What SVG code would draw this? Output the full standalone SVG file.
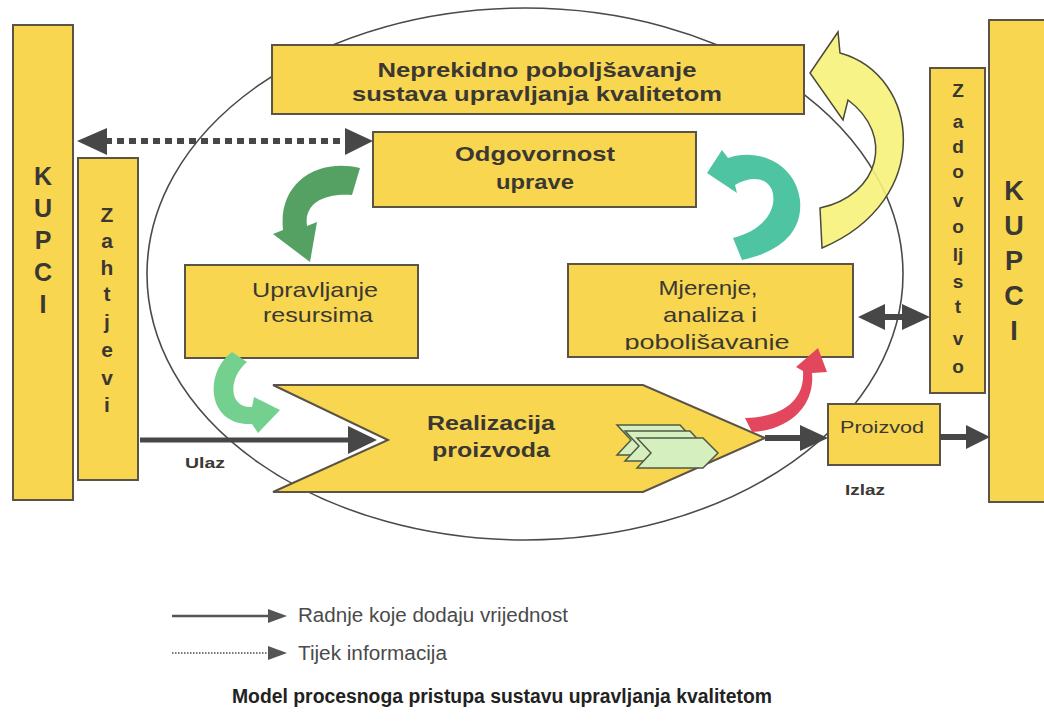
<svg xmlns="http://www.w3.org/2000/svg" width="1044" height="724" viewBox="0 0 1044 724">
<defs>
<style>
.box{fill:#f8d650;stroke:#5b5345;stroke-width:2}
.bt{font-family:"Liberation Sans",Arial,sans-serif;font-weight:bold;fill:#3b3833;text-anchor:middle}
.rt{font-family:"Liberation Sans",Arial,sans-serif;fill:#3b3833;text-anchor:middle}
.lt{font-family:"Liberation Sans",Arial,sans-serif;fill:#4a4a4a;font-size:20px}
.dk{fill:#474747}
.ln{stroke:#474747;fill:none}
</style>
<clipPath id="clipM"><rect x="570" y="266" width="282" height="84"/></clipPath>
</defs>
<rect width="1044" height="724" fill="#ffffff"/>

<ellipse id="cycle" cx="525" cy="274" rx="378" ry="266" fill="none" stroke="#4a4a4a" stroke-width="1.6"/>

<g id="kupci-left">
<rect class="box" x="13" y="25" width="60" height="475"/>
<g class="bt" font-size="25">
<text x="43" y="185">K</text><text x="43" y="217">U</text><text x="43" y="249">P</text><text x="43" y="281">C</text><text x="43" y="313">I</text>
</g>
</g>

<g id="zahtjevi">
<rect class="box" x="78" y="158" width="60" height="322"/>
<g class="bt" font-size="21">
<text x="107" y="222">Z</text><text x="107" y="248">a</text><text x="107" y="275">h</text><text x="107" y="301">t</text><text x="107" y="329">j</text><text x="107" y="357">e</text><text x="107" y="385">v</text><text x="107" y="412">i</text>
</g>
</g>

<g id="neprekidno">
<rect class="box" x="272" y="45" width="532" height="69"/>
<text class="bt" font-size="21" x="537" y="77" textLength="319" lengthAdjust="spacingAndGlyphs">Neprekidno poboljšavanje</text>
<text class="bt" font-size="21" x="537" y="101" textLength="370" lengthAdjust="spacingAndGlyphs">sustava upravljanja kvalitetom</text>
</g>

<g id="odgovornost">
<rect class="box" x="373" y="132" width="323" height="75"/>
<text class="bt" font-size="21" x="535" y="161" textLength="160" lengthAdjust="spacingAndGlyphs">Odgovornost</text>
<text class="bt" font-size="21" x="535" y="189" textLength="78" lengthAdjust="spacingAndGlyphs">uprave</text>
</g>

<g id="upravljanje">
<rect class="box" x="185" y="265" width="233" height="93"/>
<text class="rt" font-size="21" x="315" y="297" textLength="126" lengthAdjust="spacingAndGlyphs">Upravljanje</text>
<text class="rt" font-size="21" x="318" y="322" textLength="110" lengthAdjust="spacingAndGlyphs">resursima</text>
</g>

<g id="mjerenje">
<rect class="box" x="568" y="264" width="285" height="93"/>
<g clip-path="url(#clipM)">
<text class="rt" font-size="21" x="708" y="295" textLength="99" lengthAdjust="spacingAndGlyphs">Mjerenje,</text>
<text class="rt" font-size="21" x="710" y="322" textLength="94" lengthAdjust="spacingAndGlyphs">analiza i</text>
<text class="rt" font-size="21" x="707" y="349" textLength="165" lengthAdjust="spacingAndGlyphs">poboljšavanje</text>
</g>
</g>

<g id="realizacija">
<polygon class="box" points="273,385 643,385 765,438 643,492 273,492 388,440"/>
<text class="bt" font-size="21" x="491" y="430" textLength="128" lengthAdjust="spacingAndGlyphs">Realizacija</text>
<text class="bt" font-size="21" x="491" y="457" textLength="118" lengthAdjust="spacingAndGlyphs">proizvoda</text>
<g fill="#d6efbf" stroke="#4f5a45" stroke-width="1.5">
<polygon points="617,425 680,425 694,440 680,455 617,455 631,440"/>
<polygon points="625,431 690,431 704,446 690,461 625,461 639,446"/>
<polygon points="637,438 703,438 718,453 703,468 637,468 651,453"/>
</g>
</g>

<g id="proizvod">
<rect class="box" x="828" y="404" width="112" height="61"/>
<text class="rt" font-size="17" x="882" y="433" textLength="84" lengthAdjust="spacingAndGlyphs">Proizvod</text>
</g>

<g id="zadovoljstvo">
<rect class="box" x="930" y="68" width="55" height="325"/>
<g class="bt" font-size="19">
<text x="958" y="97">Z</text><text x="958" y="128">a</text><text x="958" y="153">d</text><text x="958" y="178">o</text><text x="958" y="207">v</text><text x="958" y="233">o</text><text x="958" y="261">lj</text><text x="958" y="288">s</text><text x="958" y="313">t</text><text x="958" y="345">v</text><text x="958" y="373">o</text>
</g>
</g>

<g id="kupci-right">
<rect class="box" x="989" y="20" width="60" height="482"/>
<g class="bt" font-size="27">
<text x="1014" y="200">K</text><text x="1014" y="235">U</text><text x="1014" y="270">P</text><text x="1014" y="305">C</text><text x="1014" y="340">I</text>
</g>
</g>

<g id="connectors">
<line class="ln" x1="105" y1="141" x2="347" y2="141" stroke-width="6" stroke-dasharray="7 5"/>
<polygon class="dk" points="77,141 107,128 107,155"/>
<polygon class="dk" points="373,141 345,128 345,155"/>
<line class="ln" x1="140" y1="440" x2="352" y2="440" stroke-width="5"/>
<polygon class="dk" points="377,440 348,426 348,454"/>
<line class="ln" x1="765" y1="438" x2="804" y2="438" stroke-width="6"/>
<polygon class="dk" points="828,438 800,425 800,451"/>
<line class="ln" x1="940" y1="437" x2="970" y2="437" stroke-width="6"/>
<polygon class="dk" points="990,437 966,425 966,449"/>
<line class="ln" x1="880" y1="317" x2="905" y2="317" stroke-width="6"/>
<polygon class="dk" points="858,317 885,304 885,330"/>
<polygon class="dk" points="930,317 902,304 902,330"/>
<path d="M360,168 C318,158 278,182 283,230 L273,234 L310,262 L317,222 L307,226 C304,206 320,193 352,195 Z" fill="#55a163"/>
<path d="M232,352 C204,372 206,426 252,424 L258,433 L280,410 L254,397 L252,407 C228,408 228,378 247,362 Z" fill="#74d08e"/>
<path d="M722,150 L728,158 C760,147 796,165 800,200 C803,232 780,252 742,260 L733,238 C765,230 778,208 772,190 C767,178 752,175 735,185 L737,193 L707,173 Z" fill="#4fc4a2"/>
<path d="M752,432 C792,430 815,404 812,373 L827,372 L818,348 L796,367 L803,371 C805,398 786,417 745,418 Z" fill="#e2475e"/>
<path d="M820,208 C880,195 895,135 848,100 L843,120 L810,73 L838,32 L840,53 C920,75 935,200 822,248 Z" fill="#f6f27a" fill-opacity="0.9" stroke="#4a4a3a" stroke-width="1.5"/>
</g>

<g id="labels">
<text class="bt" font-size="14" x="205" y="468" textLength="40" lengthAdjust="spacingAndGlyphs">Ulaz</text>
<text class="bt" font-size="14" x="865" y="495" textLength="40" lengthAdjust="spacingAndGlyphs">Izlaz</text>
</g>

<g id="legend">
<line x1="172" y1="616" x2="270" y2="616" stroke="#555" stroke-width="2.5"/>
<polygon points="287,616 268,609 268,623" fill="#555"/>
<text class="lt" x="298" y="622" textLength="270" lengthAdjust="spacingAndGlyphs">Radnje koje dodaju vrijednost</text>
<line x1="172" y1="653" x2="270" y2="653" stroke="#777" stroke-width="2" stroke-dasharray="1.5 1.5"/>
<polygon points="287,653 268,646 268,660" fill="#555"/>
<text class="lt" x="298" y="660" textLength="149" lengthAdjust="spacingAndGlyphs">Tijek informacija</text>
</g>

<text id="title" font-family="'Liberation Sans',Arial,sans-serif" font-weight="bold" font-size="19.5" fill="#222" x="232" y="703" textLength="540" lengthAdjust="spacingAndGlyphs">Model procesnoga pristupa sustavu upravljanja kvalitetom</text>
</svg>
